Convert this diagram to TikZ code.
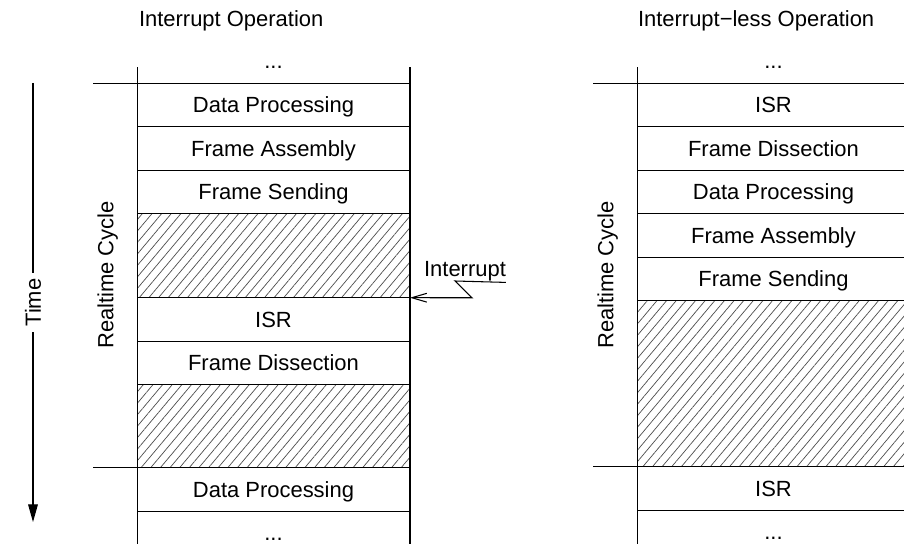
\documentclass[tikz,border=0pt]{standalone}
\usepackage{fontspec}
\setmainfont{Liberation Sans}
\usetikzlibrary{arrows.meta, patterns.meta, positioning}

\begin{document}
\begin{tikzpicture}[x=0.02cm,y=-0.02cm,line width=0.6pt,
	every node/.style={font=\fontsize{12.5}{15}\selectfont, inner sep=0pt, outer sep=0pt, text height=9pt, text depth=0pt},
	slot/.style={draw, minimum width=5.46cm, minimum height=0.87cm},
	idle/.style={slot, minimum height=#1, pattern={Lines[angle=50,distance=4.2pt,line width=0.4pt]}, pattern color=black!70},
	irq/.style={-{Straight Barb[length=8.5pt,width=5pt]}},
	timeline/.style={-{Triangle[length=10pt,width=5.5pt]}}]
	\useasboundingbox (0,0) rectangle (904,544);
	\clip (0,0) rectangle (904,544);
	
	% interrupt operation
	\node[anchor=base west] (title1) at (139,27) {Interrupt Operation};
	\node (top1) at (273.5,61) {...};
	\node[slot] (dp1) at (273.5,105) {Data Processing};
	\node[slot, below=0pt of dp1] (fa1) {Frame Assembly};
	\node[slot, below=0pt of fa1] (fs1) {Frame Sending};
	\node[idle=1.68cm, below=0pt of fs1] (idle1) {};
	\node[slot, below=0pt of idle1] (isr1) {ISR};
	\node[slot, below=0pt of isr1] (fd1) {Frame Dissection};
	\node[idle=1.66cm, below=0pt of fd1] (idle2) {};
	\node[slot, below=0pt of idle2] (dp2) {Data Processing};
	\node[slot, below=0pt of dp2] (more1) {...};
	\draw (dp1.north west) -- ++(0,-16);
	\draw (dp1.north east) -- ++(0,-16);
	\draw (dp1.north west) -- ++(-44,0);
	\draw (dp2.north west) -- ++(-44,0);
	\node[rotate=90] (rc1) at (105.5,275) {Realtime Cycle};
	
	\node (intr) at (465,268.5) {Interrupt};
	\coordinate (kink) at (455,281);
	\draw[irq] ([yshift=-0.12cm]intr.south east) -- (kink) -- ++(17,16.75) -- (isr1.north east);
	
	% time axis
	\coordinate (t0) at (33,83);
	\coordinate (t1) at (33,522);
	\draw[timeline] (t0) -- node[fill=white, rotate=90, inner xsep=3pt] (time) {Time} (t1);
	
	% interrupt-less operation
	\node[anchor=base west] (title2) at (638,27) {Interrupt−less Operation};
	\node (top2) at (773.5,61) {...};
	\node[slot] (isr3) at (773.5,105) {ISR};
	\node[slot, below=0pt of isr3] (fd2) {Frame Dissection};
	\node[slot, below=0pt of fd2] (dp3) {Data Processing};
	\node[slot, below=0pt of dp3] (fa2) {Frame Assembly};
	\node[slot, below=0pt of fa2] (fs2) {Frame Sending};
	\node[idle=3.32cm, below=0pt of fs2] (idle3) {};
	\node[slot, below=0pt of idle3] (isr4) {ISR};
	\node[slot, below=0pt of isr4] (more2) {...};
	\draw (isr3.north west) -- ++(0,-16);
	\draw (isr3.north east) -- ++(0,-16);
	\draw (isr3.north west) -- ++(-44,0);
	\draw (isr4.north west) -- ++(-44,0);
	\node[rotate=90] (rc2) at (605.5,275) {Realtime Cycle};
	
\end{tikzpicture}
\end{document}
